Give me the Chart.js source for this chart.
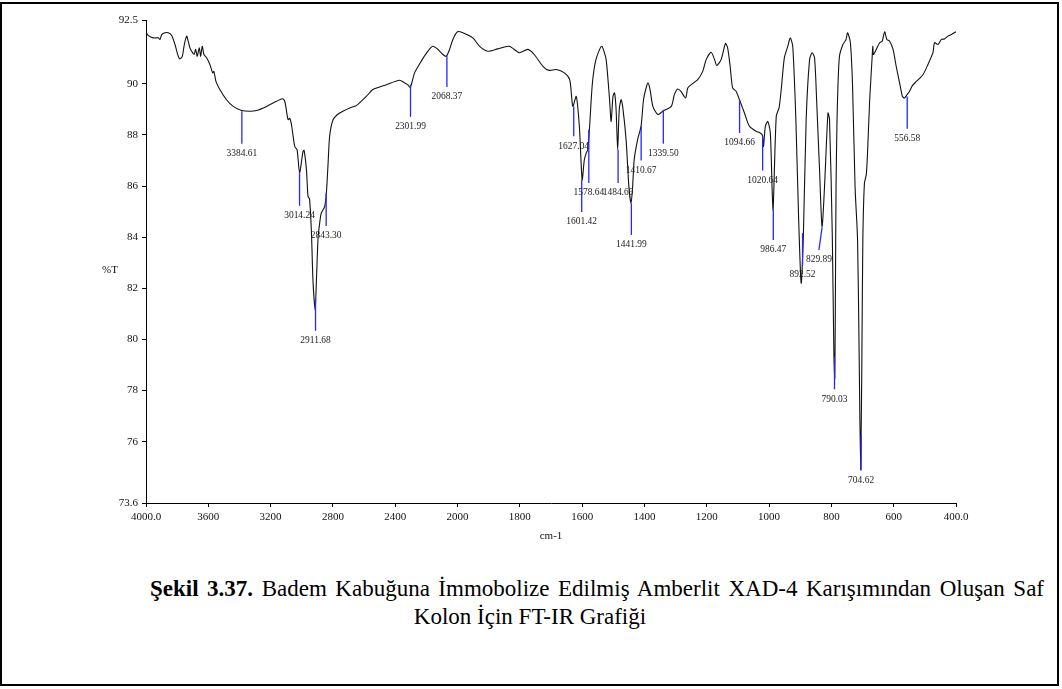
<!DOCTYPE html>
<html>
<head>
<meta charset="utf-8">
<script src="https://cdn.jsdelivr.net/npm/chart.js@4.4.1/dist/chart.umd.min.js"></script>
<style>
  html, body { margin: 0; padding: 0; background: #fff; }
  body { width: 1062px; height: 689px; position: relative; overflow: hidden;
         font-family: "Liberation Serif", "Times New Roman", serif; color: #000; }
  #frame { position: absolute; left: 0; top: 2px; width: 1055px; height: 680px; border: 2px solid #000; }
  #wrap { position: absolute; left: 0; top: 0; width: 1062px; height: 560px; }
  .cap { position: absolute; font-size: 23px; line-height: 28px; white-space: nowrap; }
  #cap1 { left: 150px; width: 894px; top: 575px; text-align: justify; text-align-last: justify; }
  #cap2 { left: 530px; top: 603px; transform: translateX(-50%); }
</style>
</head>
<body>
<div id="frame"></div>
<div id="wrap"><canvas id="ftir" width="1062" height="560"></canvas></div>
<div class="cap" id="cap1"><b>Şekil 3.37.</b> Badem Kabuğuna İmmobolize Edilmiş Amberlit XAD-4 Karışımından Oluşan Saf</div>
<div class="cap" id="cap2">Kolon İçin FT-IR Grafiği</div>

<script>
// Spectrum: wavenumber (cm-1) and transmittance (%T)
const wavenumbers = [
  4000, 3985, 3953, 3921, 3910, 3899, 3878, 3857, 3835, 3814, 3793, 3782, 3767, 3754, 3739, 3729,
  3718, 3707, 3692, 3681, 3671, 3658, 3649, 3639, 3628, 3611, 3590, 3572, 3564, 3551, 3526, 3483,
  3440, 3387, 3333, 3290, 3226, 3162, 3124, 3109, 3088, 3077, 3066, 3045, 3030, 3014, 2992, 2985,
  2970, 2960, 2950, 2938, 2928, 2914, 2906, 2895, 2885, 2875, 2853, 2842, 2831, 2821, 2799, 2757,
  2692, 2650, 2586, 2543, 2457, 2372, 2340, 2320, 2305, 2295, 2276, 2233, 2190, 2159, 2126, 2094,
  2073, 2051, 2030, 2000, 1983, 1951, 1929, 1903, 1871, 1834, 1802, 1774, 1754, 1726, 1706, 1683,
  1657, 1640, 1630, 1619, 1609, 1600, 1593, 1587, 1582, 1576, 1571, 1566, 1557, 1544, 1537, 1532,
  1523, 1512, 1507, 1501, 1496, 1491, 1486, 1481, 1475, 1470, 1459, 1450, 1443, 1438, 1433, 1422,
  1411, 1403, 1396, 1389, 1382, 1373, 1357, 1341, 1314, 1304, 1293, 1283, 1268, 1261, 1250, 1229,
  1213, 1202, 1186, 1175, 1168, 1154, 1140, 1133, 1125, 1117, 1106, 1095, 1079, 1063, 1041, 1031,
  1022, 1018, 1012, 1004, 996, 990, 987, 977, 968, 961, 951, 940, 932, 924, 914, 905,
  897, 890, 881, 870, 862, 854, 847, 838, 830, 822, 811, 806, 797, 792, 789, 787,
  785, 782, 779, 774, 763, 753, 748, 739, 732, 724, 716, 711, 706, 702, 699, 694,
  688, 684, 677, 669, 667, 665, 656, 645, 637, 629, 622, 613, 602, 592, 581, 572,
  565, 557, 549, 540, 527, 506, 490, 474, 469, 458, 447, 437, 426, 415, 400
];
const transmittance = [
  92.02, 91.89, 91.80, 91.80, 91.74, 91.93, 92.00, 92.00, 91.89, 91.54, 91.08, 90.98, 91.08, 91.54, 91.87, 91.67,
  91.41, 91.28, 91.15, 91.35, 91.08, 91.41, 91.08, 91.47, 91.15, 91.02, 90.76, 90.43, 90.49, 90.10, 89.78, 89.38,
  89.12, 88.96, 88.93, 88.96, 89.12, 89.32, 89.42, 89.32, 88.60, 88.65, 88.40, 87.55, 87.42, 86.53, 87.36, 87.40,
  86.64, 85.60, 85.50, 84.20, 82.30, 81.15, 82.30, 84.02, 84.55, 84.94, 85.20, 85.73, 86.90, 87.95, 88.60, 88.86,
  89.06, 89.15, 89.51, 89.78, 89.97, 90.14, 90.04, 89.97, 89.86, 90.00, 90.43, 90.89, 91.28, 91.47, 91.35, 91.15,
  91.08, 91.35, 91.74, 92.04, 92.00, 91.80, 91.47, 91.28, 91.37, 91.47, 91.22, 91.35, 91.15, 90.69, 90.53, 90.56,
  90.43, 90.17, 89.12, 89.51, 88.34, 86.25, 87.03, 87.29, 87.42, 88.34, 89.38, 90.17, 90.89, 91.35, 91.47, 91.35,
  90.95, 89.38, 88.53, 89.51, 89.65, 88.99, 87.42, 88.99, 89.38, 89.12, 87.82, 85.98, 85.33, 85.98, 87.03, 87.82,
  88.34, 89.38, 89.78, 90.04, 89.78, 89.12, 88.80, 88.93, 89.12, 89.58, 89.80, 89.71, 89.45, 89.84, 89.97, 90.17,
  90.49, 90.95, 91.24, 90.95, 90.72, 90.95, 91.58, 91.41, 90.69, 89.84, 89.71, 89.38, 88.86, 88.34, 88.14, 88.10,
  88.01, 87.55, 88.34, 88.53, 88.08, 85.80, 85.07, 88.73, 89.06, 89.78, 91.02, 91.47, 91.80, 91.47, 88.60, 84.68,
  82.20, 84.02, 88.60, 90.95, 91.22, 91.02, 89.25, 86.64, 84.42, 85.98, 88.86, 88.60, 84.02, 79.45, 78.47, 82.00,
  86.00, 88.50, 89.90, 91.08, 91.54, 91.74, 92.00, 91.61, 89.90, 85.98, 83.90, 79.50, 74.90, 79.50, 83.90, 86.10,
  86.45, 87.30, 89.38, 91.08, 91.47, 91.15, 91.35, 91.61, 91.67, 92.04, 91.74, 91.67, 91.35, 90.69, 90.04, 89.51,
  89.45, 89.58, 89.71, 89.93, 90.10, 90.36, 90.76, 91.22, 91.61, 91.54, 91.74, 91.76, 91.87, 91.93, 92.04
];

// Picked peaks: wavenumber, marker start/end in %T
const peakWavenumbers = [3384.61, 3014.24, 2911.68, 2843.30, 2301.99, 2068.37, 1627.04, 1601.42, 1578.64,
  1484.69, 1441.99, 1410.67, 1339.50, 1094.66, 1020.64, 986.47, 892.52, 829.89, 790.03, 704.62, 556.58];
const peakMarkTop = [88.93, 86.53, 81.57, 85.73, 89.97, 91.11, 89.12, 86.25, 88.21,
  87.42, 85.33, 88.34, 88.99, 89.38, 87.95, 85.07, 84.16, 84.39, 79.32, 76.27, 89.51];
const peakMarkBottom = [87.66, 85.23, 80.34, 84.44, 88.71, 89.88, 87.95, 84.99, 86.12,
  86.12, 84.09, 87.00, 87.66, 88.08, 86.61, 83.89, 82.91, 83.50, 78.05, 74.87, 88.24];
const peakMarkBottomWavenumber = [3384.61, 3014.24, 2911.68, 2843.30, 2301.99, 2068.37, 1627.04, 1601.42, 1578.64,
  1484.69, 1441.99, 1410.67, 1339.50, 1094.66, 1020.64, 986.47, 892.52, 840.0, 790.03, 704.62, 556.58];

// Axis ticks
const xTickValues = [4000, 3600, 3200, 2800, 2400, 2000, 1800, 1600, 1400, 1200, 1000, 800, 600, 400];
const xTickLabels = ['4000.0', '3600', '3200', '2800', '2400', '2000', '1800', '1600', '1400', '1200', '1000', '800', '600', '400.0'];
const yTickValues = [73.6, 76, 78, 80, 82, 84, 86, 88, 90, 92.5];
const yTickLabels = ['73.6', '76', '78', '80', '82', '84', '86', '88', '90', '92.5'];

const FONT = '"Liberation Serif", "Times New Roman", serif';
const BREAK_WN = 2000;

// Wavenumber axis with a scale change at 2000 cm-1 (twice the expansion below it)
class SplitWavenumberScale extends Chart.LinearScale {
  _units(v) {
    return v >= BREAK_WN ? (this.max - v) / 2 : (this.max - BREAK_WN) / 2 + (BREAK_WN - v);
  }
  getPixelForValue(v) {
    return this.left + this.width * this._units(v) / this._units(this.min);
  }
  getValueForPixel(p) {
    const u = (p - this.left) / this.width * this._units(this.min);
    const uBreak = (this.max - BREAK_WN) / 2;
    return u <= uBreak ? this.max - 2 * u : BREAK_WN - (u - uBreak);
  }
  buildTicks() {
    return xTickValues.map(v => ({ value: v }));
  }
}
SplitWavenumberScale.id = 'splitWavenumber';
SplitWavenumberScale.defaults = Chart.LinearScale.defaults;
Chart.register(SplitWavenumberScale);

const peakMarkers = {
  id: 'peakMarkers',
  afterDatasetsDraw(chart) {
    const { ctx } = chart;
    const xs = chart.scales.x, ys = chart.scales.y;
    ctx.save();
    peakWavenumbers.forEach((wn, i) => {
      const x1 = xs.getPixelForValue(wn);
      const x2 = xs.getPixelForValue(peakMarkBottomWavenumber[i]);
      const y1 = ys.getPixelForValue(peakMarkTop[i]);
      const y2 = ys.getPixelForValue(peakMarkBottom[i]);
      ctx.strokeStyle = '#2626ff';
      ctx.lineWidth = 1.3;
      ctx.beginPath();
      ctx.moveTo(x1, y1);
      ctx.lineTo(x2, y2);
      ctx.stroke();
      ctx.save();
      ctx.translate(x2, y2 + 9.5);
      ctx.scale(0.86, 1);
      ctx.fillStyle = '#222';
      ctx.font = '11px ' + FONT;
      ctx.textAlign = 'center';
      ctx.textBaseline = 'middle';
      ctx.fillText(wn.toFixed(2), 0, 0);
      ctx.restore();
    });
    // y-axis caption
    ctx.fillStyle = '#111';
    ctx.font = '11px ' + FONT;
    ctx.textAlign = 'left';
    ctx.textBaseline = 'middle';
    ctx.fillText('%T', 102, 270);
    ctx.restore();
  }
};

new Chart(document.getElementById('ftir'), {
  type: 'line',
  data: {
    datasets: [{
      data: wavenumbers.map((w, i) => ({ x: w, y: transmittance[i] })),
      borderColor: '#111',
      borderWidth: 1.1,
      pointRadius: 0,
      tension: 0.25,
      fill: false
    }]
  },
  options: {
    responsive: false,
    animation: false,
    events: [],
    layout: { padding: { left: 100, right: 106, top: 20, bottom: 0 } },
    plugins: { legend: { display: false }, tooltip: { enabled: false } },
    scales: {
      x: {
        type: 'splitWavenumber',
        min: 400,
        max: 4000,
        afterFit(axis) { axis.height = 57; },
        border: { display: true, color: '#000', width: 1 },
        grid: { display: true, drawOnChartArea: false, drawTicks: true, tickLength: 4, color: '#000' },
        ticks: {
          autoSkip: false, maxRotation: 0, padding: 4, color: '#111',
          font: { family: FONT, size: 11 },
          callback: (v, i) => xTickLabels[i]
        },
        title: { display: true, text: 'cm-1', color: '#111', font: { family: FONT, size: 11 }, padding: { top: 0, bottom: 17 } }
      },
      y: {
        type: 'linear',
        min: 73.6,
        max: 92.5,
        afterFit(axis) { axis.width = 46; },
        afterBuildTicks(axis) { axis.ticks = yTickValues.map(v => ({ value: v })); },
        border: { display: true, color: '#000', width: 1 },
        grid: { display: true, drawOnChartArea: false, drawTicks: true, tickLength: 4, color: '#000' },
        ticks: {
          autoSkip: false, padding: 4, color: '#111',
          font: { family: FONT, size: 11 },
          callback: (v, i) => yTickLabels[i]
        }
      }
    }
  },
  plugins: [peakMarkers]
});
</script>
</body>
</html>
